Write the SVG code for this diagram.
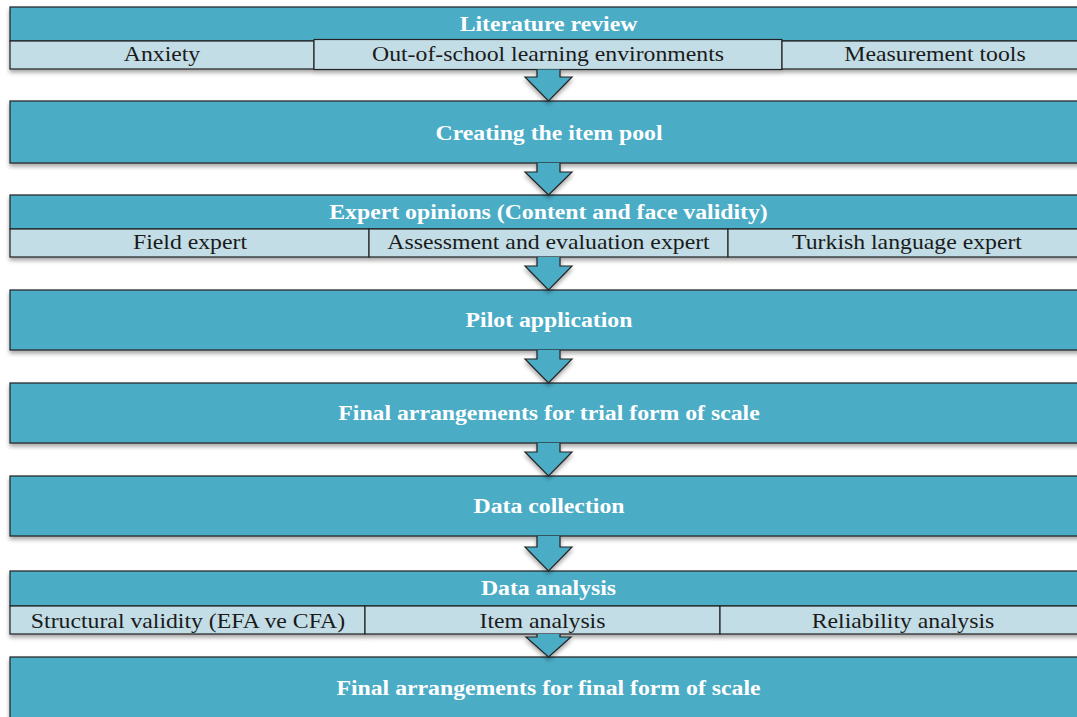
<svg xmlns="http://www.w3.org/2000/svg" width="1077" height="717" viewBox="0 0 1077 717">
<defs>
<filter id="sh" x="-5%" y="-20%" width="110%" height="160%">
<feDropShadow dx="0" dy="3" stdDeviation="2" flood-color="#000" flood-opacity="0.35"/>
</filter>
<style>
.hd{fill:#4BACC6;stroke:#222;stroke-width:1.2}
.sb{fill:#C3DDE6;stroke:#222;stroke-width:1.2}
.ar{fill:#4BACC6;stroke:#222;stroke-width:1.2;stroke-linejoin:miter}
.th{font-family:"Liberation Serif","Times New Roman",serif;font-weight:bold;font-size:22px;fill:#fff;text-anchor:middle}
.ts{font-family:"Liberation Serif","Times New Roman",serif;font-size:22px;fill:#1a1a1a;text-anchor:middle}
</style>
</defs>
<rect width="1077" height="717" fill="#fff"/>

<g id="n1" filter="url(#sh)">
<rect class="hd" x="10" y="7" width="1080" height="34"/>
<rect class="sb" x="10" y="41" width="304" height="28"/>
<rect class="sb" x="314" y="39.5" width="468" height="30"/>
<rect class="sb" x="782" y="41" width="308" height="28"/>
</g>
<g id="n2" filter="url(#sh)"><rect class="hd" x="10" y="101" width="1080" height="62"/></g>
<g id="n3" filter="url(#sh)">
<rect class="hd" x="10" y="195" width="1080" height="34"/>
<rect class="sb" x="10" y="229" width="359" height="28"/>
<rect class="sb" x="369" y="229" width="359" height="28"/>
<rect class="sb" x="728" y="229" width="362" height="28"/>
</g>
<g id="n4" filter="url(#sh)"><rect class="hd" x="10" y="290" width="1080" height="60"/></g>
<g id="n5" filter="url(#sh)"><rect class="hd" x="10" y="383" width="1080" height="60"/></g>
<g id="n6" filter="url(#sh)"><rect class="hd" x="10" y="476" width="1080" height="60"/></g>
<g id="n7" filter="url(#sh)">
<rect class="hd" x="10" y="571" width="1080" height="35"/>
<rect class="sb" x="10" y="606" width="355" height="28"/>
<rect class="sb" x="365" y="606" width="355" height="28"/>
<rect class="sb" x="720" y="606" width="370" height="28"/>
</g>
<g id="n8" filter="url(#sh)"><rect class="hd" x="10" y="657" width="1080" height="70"/></g>

<g id="connectors" filter="url(#sh)">
<path class="ar" d="M537,69.5 V77 H525 L548.5,101 L572,77 H560 V69.5"/>
<path class="ar" d="M537,163 V172 H525 L548.5,195 L572,172 H560 V163"/>
<path class="ar" d="M537,257 V266 H525 L548.5,290 L572,266 H560 V257"/>
<path class="ar" d="M537,350 V359 H525 L548.5,383 L572,359 H560 V350"/>
<path class="ar" d="M537,443 V452 H525 L548.5,476 L572,452 H560 V443"/>
<path class="ar" d="M537,536 V547 H525 L548.5,571 L572,547 H560 V536"/>
<path class="ar" d="M537,634 V637 H526 L548.5,657 L571,637 H560 V634"/>
</g>

<g id="labels">
<text class="th" transform="translate(548.5,31) scale(1.08,1)">Literature review</text>
<text class="ts" transform="translate(162,61) scale(1.08,1)">Anxiety</text>
<text class="ts" transform="translate(548,61) scale(1.08,1)">Out-of-school learning environments</text>
<text class="ts" transform="translate(935,61) scale(1.08,1)">Measurement tools</text>
<text class="th" transform="translate(549,140) scale(1.08,1)">Creating the item pool</text>
<text class="th" transform="translate(548.5,219) scale(1.08,1)">Expert opinions (Content and face validity)</text>
<text class="ts" transform="translate(190,249) scale(1.08,1)">Field expert</text>
<text class="ts" transform="translate(548.5,249) scale(1.08,1)">Assessment and evaluation expert</text>
<text class="ts" transform="translate(907,249) scale(1.08,1)">Turkish language expert</text>
<text class="th" transform="translate(549,327) scale(1.08,1)">Pilot application</text>
<text class="th" transform="translate(549,420) scale(1.08,1)">Final arrangements for trial form of scale</text>
<text class="th" transform="translate(549,513) scale(1.08,1)">Data collection</text>
<text class="th" transform="translate(548.5,595) scale(1.08,1)">Data analysis</text>
<text class="ts" transform="translate(188,628) scale(1.08,1)">Structural validity (EFA ve CFA)</text>
<text class="ts" transform="translate(542.5,628) scale(1.08,1)">Item analysis</text>
<text class="ts" transform="translate(903,628) scale(1.08,1)">Reliability analysis</text>
<text class="th" transform="translate(548.5,695) scale(1.08,1)">Final arrangements for final form of scale</text>
</g>
</svg>
